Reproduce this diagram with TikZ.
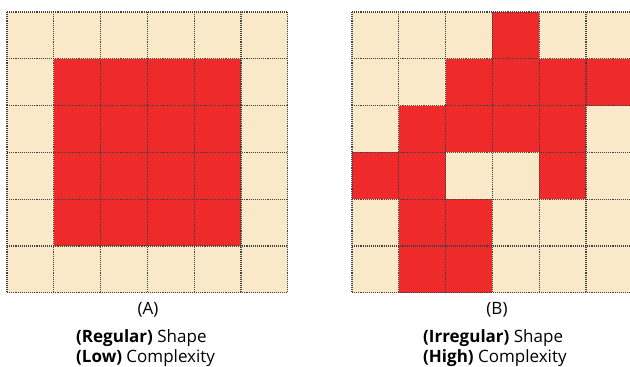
\documentclass[tikz,border=0pt]{standalone}
\usepackage{fontspec}
\setmainfont{Open Sans}
\usetikzlibrary{positioning}
\definecolor{cellcream}{RGB}{250,233,200}
\definecolor{cellred}{RGB}{238,42,42}
\tikzset{
  gridline/.style={densely dotted,line width=1.1pt,black!75},
  caption/.style={font=\fontsize{17}{20}\selectfont,inner sep=0pt}
}
\newcommand{\cs}{46.8}
% one red cell: x0, row, col
\newcommand{\redcell}[3]{%
  \fill[cellred] ({#1+#3*\cs},{12+#2*\cs}) rectangle ++(\cs,\cs);}

\begin{document}
\begin{tikzpicture}[x=1pt,y=-1pt]
\useasboundingbox (0,0) rectangle (630,367);
\clip (0,0) rectangle (630,367);
% backgrounds of both grids
\foreach \gx in {7,352}{
  \fill[cellcream] (\gx,12) rectangle ++({6*\cs},{6*\cs});
}
% (A): regular block
\foreach \r in {1,...,4}{
  \foreach \c in {1,...,4}{ \redcell{7}{\r}{\c} }
}
% (B): irregular blob
\foreach \r/\c in {0/3, 1/2,1/3,1/4,1/5, 2/1,2/2,2/3,2/4, 3/0,3/1,3/4, 4/1,4/2, 5/1,5/2}{
  \redcell{352}{\r}{\c}
}
% dotted grid lines
\foreach \gx in {7,352}{
  \foreach \i in {0,...,6}{
    \draw[gridline] ({\gx+\i*\cs},12) -- ++(0,{6*\cs});
    \draw[gridline] (\gx,{12+\i*\cs}) -- ++({6*\cs},0);
  }
}
% captions
\node[caption] (labA) at (148,310) {(A)};
\node[caption,anchor=west] (shapeA) at (76,338) {\textbf{(Regular)} Shape};
\node[caption,anchor=west] (complexA) at (76,358) {\textbf{(Low)} Complexity};
\node[caption] (labB) at (497,310) {(B)};
\node[caption,anchor=west] (shapeB) at (423,338) {\textbf{(Irregular)} Shape};
\node[caption,anchor=west] (complexB) at (423,358) {\textbf{(High)} Complexity};
\end{tikzpicture}
\end{document}
